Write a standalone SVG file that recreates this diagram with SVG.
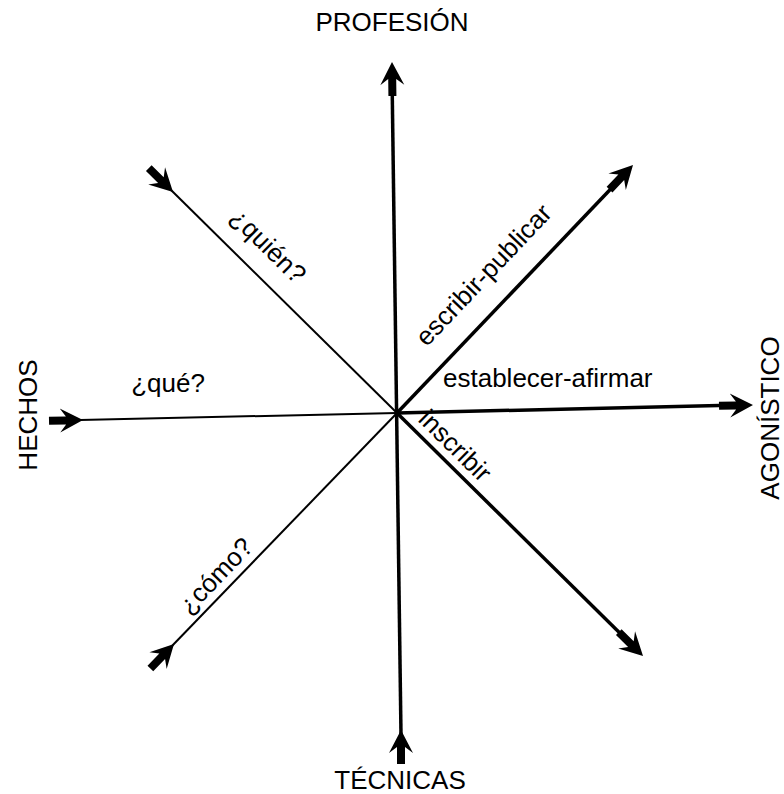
<svg xmlns="http://www.w3.org/2000/svg" xmlns:xlink="http://www.w3.org/1999/xlink" width="784" height="794" viewBox="0 0 784 794">
<style>
.t{font-family:"Liberation Sans",Arial,Helvetica,sans-serif;font-size:26px;fill:#000}
.thick{stroke:#000;stroke-width:3.5;fill:none;stroke-linecap:butt}
.thin{stroke:#000;stroke-width:2;fill:none}
</style>
<defs>
<path id="arr" d="M0,0 L-23,12 L-17,4 L-34,4 L-34,-4 L-17,-4 L-23,-12 Z" fill="#000"/>
</defs>
<rect width="784" height="794" fill="#fff"/>
<g id="connectors">
<path class="thick" d="M392,75 L401,735"/>
<path class="thick" d="M397,413 L740,405"/>
<path class="thin" d="M80,420 L397,413"/>
<path class="thick" d="M397,413 L625,174"/>
<path class="thick" d="M397,413 L635,648"/>
<path class="thin" d="M170,189 L397,413"/>
<path class="thin" d="M171,647 L397,413"/>
<use xlink:href="#arr" transform="translate(392,62) rotate(-90.7)"/>
<use xlink:href="#arr" transform="translate(401,730) rotate(-90)"/>
<use xlink:href="#arr" transform="translate(753,405) rotate(-1.3)"/>
<use xlink:href="#arr" transform="translate(83,420) rotate(-1.3)"/>
<use xlink:href="#arr" transform="translate(633,165) rotate(-46.4)"/>
<use xlink:href="#arr" transform="translate(643,656) rotate(44.6)"/>
<use xlink:href="#arr" transform="translate(173,192) rotate(44.6)"/>
<use xlink:href="#arr" transform="translate(174,644) rotate(-46)"/>
</g>
<g id="profesion"><text class="t" x="392" y="31" text-anchor="middle">PROFESIÓN</text></g>
<g id="tecnicas"><text class="t" x="400" y="789" text-anchor="middle">TÉCNICAS</text></g>
<g id="hechos"><text class="t" transform="translate(37,415) rotate(-90)" text-anchor="middle">HECHOS</text></g>
<g id="agonistico"><text class="t" transform="translate(779,418) rotate(-90)" text-anchor="middle">AGONÍSTICO</text></g>
<g id="que"><text class="t" x="168" y="392" text-anchor="middle">¿qué?</text></g>
<g id="establecer"><text class="t" x="443" y="387">establecer-afirmar</text></g>
<g id="escribir"><text class="t" transform="translate(490,281) rotate(-46.4)" text-anchor="middle">escribir-publicar</text></g>
<g id="quien"><text class="t" transform="translate(262,252) rotate(44.6)" text-anchor="middle">¿quién?</text></g>
<g id="inscribir"><text class="t" transform="translate(449,452) rotate(44.6)" text-anchor="middle">inscribir</text></g>
<g id="como"><text class="t" transform="translate(222,582) rotate(-46)" text-anchor="middle">¿cómo?</text></g>
</svg>
